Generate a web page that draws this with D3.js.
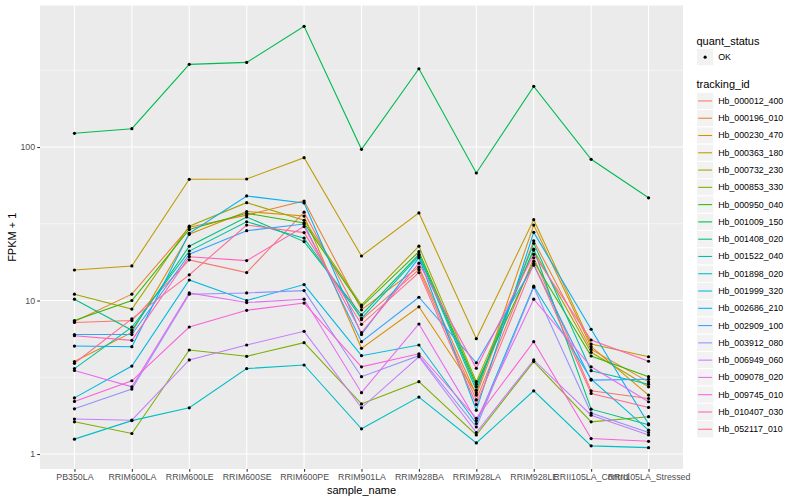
<!DOCTYPE html>
<html><head><meta charset="utf-8">
<script src="https://cdn.jsdelivr.net/npm/d3@7"></script>
<style>html,body{margin:0;padding:0;background:#fff;}svg{display:block;font-family:"Liberation Sans",Arial,Helvetica,sans-serif;}</style>
</head><body><svg id="c" width="800" height="500"></svg>
<script>
const categories = ["PB350LA","RRIM600LA","RRIM600LE","RRIM600SE","RRIM600PE","RRIM901LA","RRIM928BA","RRIM928LA","RRIM928LE","RRII105LA_Control","RRII105LA_Stressed"];
const trackingIds = ["Hb_000012_400","Hb_000196_010","Hb_000230_470","Hb_000363_180","Hb_000732_230","Hb_000853_330","Hb_000950_040","Hb_001009_150","Hb_001408_020","Hb_001522_040","Hb_001898_020","Hb_001999_320","Hb_002686_210","Hb_002909_100","Hb_003912_080","Hb_006949_060","Hb_009078_020","Hb_009745_010","Hb_010407_030","Hb_052117_010"];
const colors = ["#F8766D","#EA8331","#D89000","#C09B00","#A3A500","#7CAE00","#39B600","#00BB4E","#00BF7D","#00C1A3","#00BFC4","#00BAE0","#00B0F6","#35A2FF","#9590FF","#C77CFF","#E76BF3","#FA62DB","#FF62BC","#FF6C91"];
// FPKM + 1 values, one array per tracking_id, in category order
const Hb_000012_400 = [7.2, 7.4, 18.4, 15.2, 37.6, 7.5, 15.9, 2.25, 19, 2.58, 2.3];
const Hb_000196_010 = [7.3, 11.0, 30, 36, 44.5, 8.7, 16.5, 2.42, 24.5, 4.8, 2.95];
const Hb_000230_470 = [4.0, 6.2, 27, 38, 35.5, 4.88, 9.1, 2.5, 31.0, 5.0, 2.42];
const Hb_000363_180 = [15.8, 16.8, 61.6, 61.9, 85.2, 19.5, 37.2, 5.64, 33.6, 5.2, 4.3];
const Hb_000732_230 = [11.0, 8.8, 30.5, 43.4, 33.3, 9.35, 22.6, 2.96, 21.3, 4.6, 2.74];
const Hb_000853_330 = [1.62, 1.36, 4.76, 4.33, 5.31, 2.12, 2.96, 1.33, 4.0, 1.62, 1.75];
const Hb_000950_040 = [7.4, 10.0, 29, 37, 32, 9.1, 20.8, 2.85, 18, 4.35, 3.19];
const Hb_001009_150 = [122.8, 131.6, 345.6, 356, 611, 96.6, 323.6, 67.7, 248.5, 83.2, 46.7];
const Hb_001408_020 = [10.2, 6.4, 22.6, 35, 24.2, 8.05, 20, 2.74, 21.6, 1.96, 1.55];
const Hb_001522_040 = [3.6, 6.7, 21, 32.6, 25.5, 7.66, 19.5, 2.6, 23.6, 3.49, 2.85];
const Hb_001898_020 = [1.25, 1.65, 2.0, 3.6, 3.8, 1.46, 2.35, 1.18, 2.58, 1.13, 1.1];
const Hb_001999_320 = [2.32, 3.74, 13.6, 10.0, 12.7, 4.37, 5.13, 1.58, 12.4, 3.07, 1.43];
const Hb_002686_210 = [5.05, 5.0, 27.4, 48, 43.2, 6.0, 19, 1.93, 27.8, 6.5, 1.57];
const Hb_002909_100 = [6.0, 6.0, 20, 28.5, 31.5, 5.39, 10.5, 3.93, 17, 3.03, 3.07];
const Hb_003912_080 = [1.97, 2.65, 11.0, 11.2, 11.6, 3.19, 4.37, 1.5, 12.2, 1.85, 1.38];
const Hb_006949_060 = [1.69, 1.66, 4.1, 5.13, 6.3, 2.0, 4.3, 1.38, 4.1, 1.79, 1.33];
const Hb_009078_020 = [3.5, 2.74, 11.2, 9.7, 10.2, 2.51, 7.03, 1.65, 10.2, 3.7, 2.19];
const Hb_009745_010 = [2.2, 3.0, 6.72, 8.63, 9.63, 3.7, 4.5, 1.71, 5.39, 1.26, 1.21];
const Hb_010407_030 = [5.9, 5.5, 19.3, 18.2, 30.3, 6.17, 17.5, 3.62, 20, 5.53, 4.02];
const Hb_052117_010 = [3.9, 7.6, 14.7, 31, 27.7, 7.0, 15.2, 2.1, 17.4, 2.48, 2.01];
const seriesValues = [Hb_000012_400,Hb_000196_010,Hb_000230_470,Hb_000363_180,Hb_000732_230,Hb_000853_330,Hb_000950_040,Hb_001009_150,Hb_001408_020,Hb_001522_040,Hb_001898_020,Hb_001999_320,Hb_002686_210,Hb_002909_100,Hb_003912_080,Hb_006949_060,Hb_009078_020,Hb_009745_010,Hb_010407_030,Hb_052117_010];
const yMajorTicks = [1, 10, 100];
const yMinorTicks = [Math.pow(10,0.5), Math.pow(10,1.5), Math.pow(10,2.5)];
const quantStatus = ["OK"];

const series = trackingIds.map((id,i)=>({id, color: colors[i], values: seriesValues[i].map((v,j)=>({cat: categories[j], v}))}));

const svg = d3.select("#c");
const P = {l:40, r:683, t:5.5, b:469};
const x = d3.scalePoint().domain(categories).range([P.l, P.r]).padding(0.6);
const y = d3.scaleLog().domain([Math.pow(10,-0.0977), Math.pow(10,2.922)]).range([P.b, P.t]);

svg.append("rect").attr("x",0).attr("y",0).attr("width",800).attr("height",500).attr("fill","#fff");
svg.append("rect").attr("x",P.l).attr("y",P.t).attr("width",P.r-P.l).attr("height",P.b-P.t).attr("fill","#EBEBEB");

const grid = svg.append("g");
grid.selectAll(".ymin").data(yMinorTicks).join("line")
  .attr("x1",P.l).attr("x2",P.r).attr("y1",d=>y(d)).attr("y2",d=>y(d))
  .attr("stroke","#fff").attr("stroke-width",0.53);
grid.selectAll(".ymaj").data(yMajorTicks).join("line")
  .attr("x1",P.l).attr("x2",P.r).attr("y1",d=>y(d)).attr("y2",d=>y(d))
  .attr("stroke","#fff").attr("stroke-width",1.07);
grid.selectAll(".xmaj").data(categories).join("line")
  .attr("y1",P.t).attr("y2",P.b).attr("x1",d=>x(d)).attr("x2",d=>x(d))
  .attr("stroke","#fff").attr("stroke-width",1.07);

const line = d3.line().x(d=>x(d.cat)).y(d=>y(d.v));
const gl = svg.append("g");
gl.selectAll("path").data(series).join("path")
  .attr("d",d=>line(d.values)).attr("fill","none")
  .attr("stroke",d=>d.color).attr("stroke-width",1.07);
const gp = svg.append("g");
series.forEach(s=>{
  gp.selectAll(null).data(s.values).join("circle")
    .attr("cx",d=>x(d.cat)).attr("cy",d=>y(d.v)).attr("r",1.6).attr("fill","#000");
});

// axes
const ax = svg.append("g").attr("transform",`translate(0,${P.b})`)
  .call(d3.axisBottom(x).tickSize(2.75).tickPadding(2.4));
ax.select(".domain").remove();
ax.selectAll(".tick line").attr("stroke","#333333").attr("stroke-width",1.07);
ax.selectAll(".tick text").attr("fill","#4D4D4D").attr("font-size","8.8px").attr("font-family","Liberation Sans, Arial, sans-serif");

const ay = svg.append("g").attr("transform",`translate(${P.l},0)`)
  .call(d3.axisLeft(y).tickValues(yMajorTicks).tickFormat(d3.format("d")).tickSize(2.75).tickPadding(2.2));
ay.select(".domain").remove();
ay.selectAll(".tick line").attr("stroke","#333333").attr("stroke-width",1.07);
ay.selectAll(".tick text").attr("fill","#4D4D4D").attr("font-size","8.8px").attr("font-family","Liberation Sans, Arial, sans-serif");

svg.append("text").attr("x",(P.l+P.r)/2).attr("y",494).attr("text-anchor","middle")
  .attr("font-size","11px").attr("fill","#000").text("sample_name");
svg.append("text").attr("transform",`translate(12,${(P.t+P.b)/2}) rotate(-90)`).attr("text-anchor","middle")
  .attr("dominant-baseline","central").attr("font-size","11px").attr("fill","#000").text("FPKM + 1");

// legend
const L = {x:696.5, key:17.28};
const lg = svg.append("g");
lg.append("text").attr("x",L.x).attr("y",44.5).attr("font-size","11px").attr("fill","#000").text("quant_status");
const q = lg.selectAll(".q").data(quantStatus).join("g").attr("transform",(d,i)=>`translate(${L.x},${48.5+i*L.key})`);
q.append("rect").attr("width",L.key).attr("height",L.key).attr("fill","#F2F2F2").attr("stroke","#fff").attr("stroke-width",1);
q.append("circle").attr("cx",L.key/2).attr("cy",L.key/2).attr("r",1.6).attr("fill","#000");
q.append("text").attr("x",L.key+4.4).attr("y",L.key/2).attr("dominant-baseline","central").attr("font-size","8.8px").attr("fill","#000").text(d=>d);

lg.append("text").attr("x",L.x).attr("y",88.3).attr("font-size","11px").attr("fill","#000").text("tracking_id");
const t = lg.selectAll(".t").data(series).join("g").attr("transform",(d,i)=>`translate(${L.x},${92.3+i*L.key})`);
t.append("rect").attr("width",L.key).attr("height",L.key).attr("fill","#F2F2F2").attr("stroke","#fff").attr("stroke-width",1);
t.append("line").attr("x1",1.7).attr("x2",L.key-1.7).attr("y1",L.key/2).attr("y2",L.key/2).attr("stroke",d=>d.color).attr("stroke-width",1.07);
t.append("text").attr("x",L.key+4.4).attr("y",L.key/2).attr("dominant-baseline","central").attr("font-size","8.8px").attr("fill","#000").text(d=>d.id);
</script></body></html>
